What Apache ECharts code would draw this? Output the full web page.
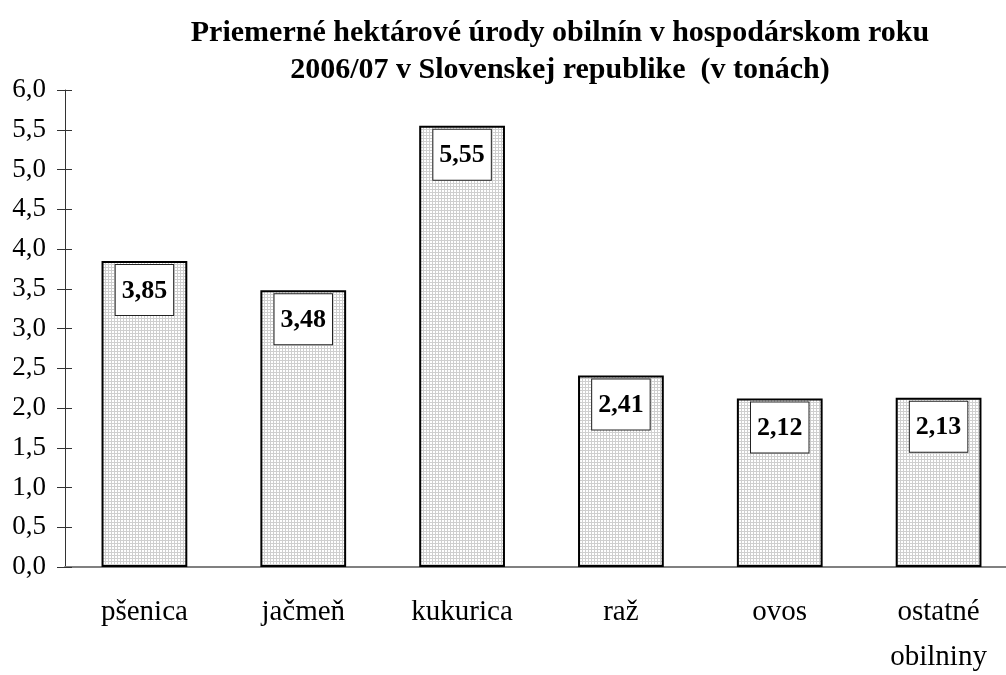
<!DOCTYPE html>
<html>
<head>
<meta charset="utf-8">
<script src="https://cdn.jsdelivr.net/npm/echarts@6/dist/echarts.min.js"></script>
<style>
  html, body { margin: 0; padding: 0; background: #fff; }
  #chart { width: 1006px; height: 675px; }
</style>
</head>
<body>
<div id="chart"></div>
<script>
const categories = ['pšenica', 'jačmeň', 'kukurica', 'raž', 'ovos', 'ostatné\nobilniny']
const values = [3.85, 3.48, 5.55, 2.41, 2.12, 2.13]

// jemna mriezka ako vypln stlpcov
const makePattern = () => {
    let c = document.createElement('canvas')
    c.width = 3
    c.height = 3
    let ctx = c.getContext('2d')
    ctx.fillStyle = '#ffffff'
    ctx.fillRect(0, 0, 3, 3)
    ctx.fillStyle = '#cfcfcf'
    ctx.fillRect(0, 0, 3, 1)
    ctx.fillRect(0, 0, 1, 3)
    return c
}

const fmt = v => v.toFixed(1).replace('.', ',')
const font = 'Liberation Serif'

let myChart = echarts.init(document.getElementById('chart'))
let option = {
    animation: false,
    title: {
        text: 'Priemerné hektárové úrody obilnín v hospodárskom roku\n2006/07 v Slovenskej republike  (v tonách)',
        left: 555,
        top: 10,
        textAlign: 'center',
        textStyle: {
            fontFamily: font,
            fontSize: 30,
            fontWeight: 'bold',
            color: '#000',
            lineHeight: 37
        }
    },
    grid: {
        left: 65,
        right: -12,
        top: 90,
        bottom: 108,
        outerBoundsMode: 'none',
        containLabel: false
    },
    xAxis: {
        type: 'category',
        data: categories,
        axisLine: { lineStyle: { color: '#808080', width: 2 } },
        axisTick: { show: false },
        axisLabel: {
            margin: 23,
            fontFamily: font,
            fontSize: 29,
            color: '#000',
            lineHeight: 45
        }
    },
    yAxis: [{
        type: 'value',
        min: 0,
        max: 6,
        interval: 0.5,
        axisLine: { show: true, lineStyle: { color: '#333', width: 1 } },
        axisTick: { show: true, length: 8, lineStyle: { color: '#333' } },
        splitLine: { show: false },
        axisLabel: {
            margin: 19,
            fontFamily: font,
            fontSize: 27,
            color: '#000',
            formatter: fmt
        }
    }, {
        type: 'value',
        position: 'left',
        min: 0,
        max: 6,
        interval: 0.5,
        axisLine: { show: false },
        axisTick: { show: true, inside: true, length: 7, lineStyle: { color: '#333' } },
        splitLine: { show: false },
        axisLabel: { show: false }
    }],
    series: [{
        type: 'bar',
        data: values,
        barWidth: '54%',
        itemStyle: {
            color: { image: makePattern(), repeat: 'repeat' },
            borderColor: '#000',
            borderWidth: 2
        },
        label: {
            show: true,
            position: 'insideTop',
            distance: 4,
            formatter: p => p.value.toFixed(2).replace('.', ','),
            fontFamily: font,
            fontSize: 26,
            fontWeight: 'bold',
            color: '#000',
            backgroundColor: '#fff',
            borderColor: '#222',
            borderWidth: 1,
            padding: [13, 6, 11, 6]
        }
    }]
}
myChart.setOption(option)
</script>
</body>
</html>
